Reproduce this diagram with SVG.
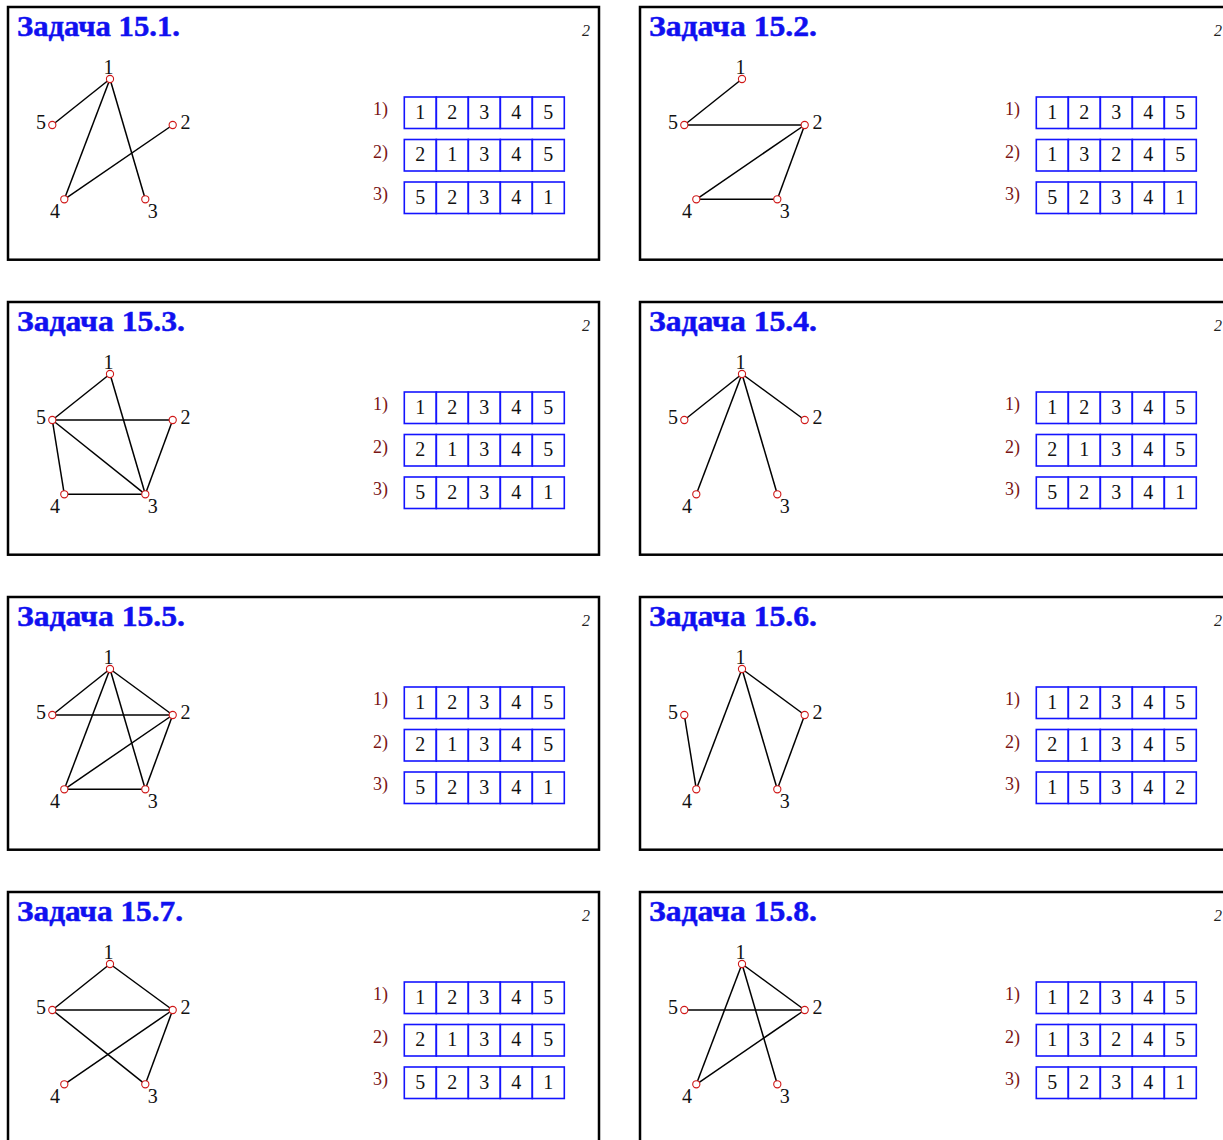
<svg xmlns="http://www.w3.org/2000/svg" width="1223" height="1140" viewBox="0 0 1223 1140">
<style>
.frame{fill:none;stroke:#000;stroke-width:2.5}
.title{font-family:"Liberation Serif",serif;font-weight:bold;font-size:30px;fill:#1010f0;stroke:#1010f0;stroke-width:0.5}
.pg{font-family:"Liberation Serif",serif;font-style:italic;font-size:16px;fill:#222;text-anchor:middle}
.edges line{stroke:#000;stroke-width:1.5}
.v circle{fill:#fff;stroke:#d01818;stroke-width:1.1}
.v text{font-family:"Liberation Serif",serif;font-size:20px;fill:#111;text-anchor:middle}
.rl{font-family:"Liberation Serif",serif;font-size:18px;fill:#7a1515}
.cell{fill:none;stroke:#1414ff;stroke-width:1.6}
.cells text{font-family:"Liberation Serif",serif;font-size:20px;fill:#111;text-anchor:middle}
</style>
<defs>
<g id="frame">
<rect class="frame" x="8" y="7" width="591" height="252.7"/>
<text class="pg" x="586" y="36">2</text>
</g>
<g id="grid">
<rect class="cell" x="404.3" y="0" width="32" height="31.5"/>
<rect class="cell" x="436.3" y="0" width="32" height="31.5"/>
<rect class="cell" x="468.3" y="0" width="32" height="31.5"/>
<rect class="cell" x="500.3" y="0" width="32" height="31.5"/>
<rect class="cell" x="532.3" y="0" width="32" height="31.5"/>
</g>
<g id="labels">
<text class="rl" x="373" y="115">1)</text>
<text class="rl" x="373" y="157.5">2)</text>
<text class="rl" x="373" y="200">3)</text>
</g>
</defs>

<!-- Panel 15.1 -->
<g id="panel-15-1" transform="translate(0,0)">
<use href="#frame"/>
<text class="title" x="17" y="35.7" textLength="163" lengthAdjust="spacingAndGlyphs">Задача 15.1.</text>
<g class="edges" id="edges-15-1">
<line x1="110" y1="79" x2="52.3" y2="125"/>
<line x1="110" y1="79" x2="64.3" y2="199.3"/>
<line x1="110" y1="79" x2="145.3" y2="199.3"/>
<line x1="172.7" y1="125" x2="64.3" y2="199.3"/>
</g>
<g class="v" id="n15-1-1"><circle cx="110" cy="79" r="3.6"/><text x="108.5" y="74">1</text></g>
<g class="v" id="n15-1-2"><circle cx="172.7" cy="125" r="3.6"/><text x="185.5" y="128.7">2</text></g>
<g class="v" id="n15-1-3"><circle cx="145.3" cy="199.3" r="3.6"/><text x="152.7" y="218.3">3</text></g>
<g class="v" id="n15-1-4"><circle cx="64.3" cy="199.3" r="3.6"/><text x="55" y="218.3">4</text></g>
<g class="v" id="n15-1-5"><circle cx="52.3" cy="125" r="3.6"/><text x="41" y="128.7">5</text></g>
<use href="#labels"/>
<g class="cells" id="t15-1">
<g transform="translate(0,97)"><use href="#grid"/><text x="420.3" y="21.5">1</text><text x="452.3" y="21.5">2</text><text x="484.3" y="21.5">3</text><text x="516.3" y="21.5">4</text><text x="548.3" y="21.5">5</text></g>
<g transform="translate(0,139.5)"><use href="#grid"/><text x="420.3" y="21.5">2</text><text x="452.3" y="21.5">1</text><text x="484.3" y="21.5">3</text><text x="516.3" y="21.5">4</text><text x="548.3" y="21.5">5</text></g>
<g transform="translate(0,182)"><use href="#grid"/><text x="420.3" y="21.5">5</text><text x="452.3" y="21.5">2</text><text x="484.3" y="21.5">3</text><text x="516.3" y="21.5">4</text><text x="548.3" y="21.5">1</text></g>
</g>
</g>

<!-- Panel 15.2 -->
<g id="panel-15-2" transform="translate(632,0)">
<use href="#frame"/>
<text class="title" x="17" y="35.7" textLength="168" lengthAdjust="spacingAndGlyphs">Задача 15.2.</text>
<g class="edges" id="edges-15-2">
<line x1="110" y1="79" x2="52.3" y2="125"/>
<line x1="52.3" y1="125" x2="172.7" y2="125"/>
<line x1="172.7" y1="125" x2="64.3" y2="199.3"/>
<line x1="172.7" y1="125" x2="145.3" y2="199.3"/>
<line x1="64.3" y1="199.3" x2="145.3" y2="199.3"/>
</g>
<g class="v" id="n15-2-1"><circle cx="110" cy="79" r="3.6"/><text x="108.5" y="74">1</text></g>
<g class="v" id="n15-2-2"><circle cx="172.7" cy="125" r="3.6"/><text x="185.5" y="128.7">2</text></g>
<g class="v" id="n15-2-3"><circle cx="145.3" cy="199.3" r="3.6"/><text x="152.7" y="218.3">3</text></g>
<g class="v" id="n15-2-4"><circle cx="64.3" cy="199.3" r="3.6"/><text x="55" y="218.3">4</text></g>
<g class="v" id="n15-2-5"><circle cx="52.3" cy="125" r="3.6"/><text x="41" y="128.7">5</text></g>
<use href="#labels"/>
<g class="cells" id="t15-2">
<g transform="translate(0,97)"><use href="#grid"/><text x="420.3" y="21.5">1</text><text x="452.3" y="21.5">2</text><text x="484.3" y="21.5">3</text><text x="516.3" y="21.5">4</text><text x="548.3" y="21.5">5</text></g>
<g transform="translate(0,139.5)"><use href="#grid"/><text x="420.3" y="21.5">1</text><text x="452.3" y="21.5">3</text><text x="484.3" y="21.5">2</text><text x="516.3" y="21.5">4</text><text x="548.3" y="21.5">5</text></g>
<g transform="translate(0,182)"><use href="#grid"/><text x="420.3" y="21.5">5</text><text x="452.3" y="21.5">2</text><text x="484.3" y="21.5">3</text><text x="516.3" y="21.5">4</text><text x="548.3" y="21.5">1</text></g>
</g>
</g>

<!-- Panel 15.3 -->
<g id="panel-15-3" transform="translate(0,295)">
<use href="#frame"/>
<text class="title" x="17" y="35.7" textLength="168" lengthAdjust="spacingAndGlyphs">Задача 15.3.</text>
<g class="edges" id="edges-15-3">
<line x1="110" y1="79" x2="52.3" y2="125"/>
<line x1="110" y1="79" x2="145.3" y2="199.3"/>
<line x1="52.3" y1="125" x2="172.7" y2="125"/>
<line x1="52.3" y1="125" x2="145.3" y2="199.3"/>
<line x1="52.3" y1="125" x2="64.3" y2="199.3"/>
<line x1="172.7" y1="125" x2="145.3" y2="199.3"/>
<line x1="64.3" y1="199.3" x2="145.3" y2="199.3"/>
</g>
<g class="v" id="n15-3-1"><circle cx="110" cy="79" r="3.6"/><text x="108.5" y="74">1</text></g>
<g class="v" id="n15-3-2"><circle cx="172.7" cy="125" r="3.6"/><text x="185.5" y="128.7">2</text></g>
<g class="v" id="n15-3-3"><circle cx="145.3" cy="199.3" r="3.6"/><text x="152.7" y="218.3">3</text></g>
<g class="v" id="n15-3-4"><circle cx="64.3" cy="199.3" r="3.6"/><text x="55" y="218.3">4</text></g>
<g class="v" id="n15-3-5"><circle cx="52.3" cy="125" r="3.6"/><text x="41" y="128.7">5</text></g>
<use href="#labels"/>
<g class="cells" id="t15-3">
<g transform="translate(0,97)"><use href="#grid"/><text x="420.3" y="21.5">1</text><text x="452.3" y="21.5">2</text><text x="484.3" y="21.5">3</text><text x="516.3" y="21.5">4</text><text x="548.3" y="21.5">5</text></g>
<g transform="translate(0,139.5)"><use href="#grid"/><text x="420.3" y="21.5">2</text><text x="452.3" y="21.5">1</text><text x="484.3" y="21.5">3</text><text x="516.3" y="21.5">4</text><text x="548.3" y="21.5">5</text></g>
<g transform="translate(0,182)"><use href="#grid"/><text x="420.3" y="21.5">5</text><text x="452.3" y="21.5">2</text><text x="484.3" y="21.5">3</text><text x="516.3" y="21.5">4</text><text x="548.3" y="21.5">1</text></g>
</g>
</g>

<!-- Panel 15.4 -->
<g id="panel-15-4" transform="translate(632,295)">
<use href="#frame"/>
<text class="title" x="17" y="35.7" textLength="168" lengthAdjust="spacingAndGlyphs">Задача 15.4.</text>
<g class="edges" id="edges-15-4">
<line x1="110" y1="79" x2="52.3" y2="125"/>
<line x1="110" y1="79" x2="172.7" y2="125"/>
<line x1="110" y1="79" x2="64.3" y2="199.3"/>
<line x1="110" y1="79" x2="145.3" y2="199.3"/>
</g>
<g class="v" id="n15-4-1"><circle cx="110" cy="79" r="3.6"/><text x="108.5" y="74">1</text></g>
<g class="v" id="n15-4-2"><circle cx="172.7" cy="125" r="3.6"/><text x="185.5" y="128.7">2</text></g>
<g class="v" id="n15-4-3"><circle cx="145.3" cy="199.3" r="3.6"/><text x="152.7" y="218.3">3</text></g>
<g class="v" id="n15-4-4"><circle cx="64.3" cy="199.3" r="3.6"/><text x="55" y="218.3">4</text></g>
<g class="v" id="n15-4-5"><circle cx="52.3" cy="125" r="3.6"/><text x="41" y="128.7">5</text></g>
<use href="#labels"/>
<g class="cells" id="t15-4">
<g transform="translate(0,97)"><use href="#grid"/><text x="420.3" y="21.5">1</text><text x="452.3" y="21.5">2</text><text x="484.3" y="21.5">3</text><text x="516.3" y="21.5">4</text><text x="548.3" y="21.5">5</text></g>
<g transform="translate(0,139.5)"><use href="#grid"/><text x="420.3" y="21.5">2</text><text x="452.3" y="21.5">1</text><text x="484.3" y="21.5">3</text><text x="516.3" y="21.5">4</text><text x="548.3" y="21.5">5</text></g>
<g transform="translate(0,182)"><use href="#grid"/><text x="420.3" y="21.5">5</text><text x="452.3" y="21.5">2</text><text x="484.3" y="21.5">3</text><text x="516.3" y="21.5">4</text><text x="548.3" y="21.5">1</text></g>
</g>
</g>

<!-- Panel 15.5 -->
<g id="panel-15-5" transform="translate(0,590)">
<use href="#frame"/>
<text class="title" x="17" y="35.7" textLength="168" lengthAdjust="spacingAndGlyphs">Задача 15.5.</text>
<g class="edges" id="edges-15-5">
<line x1="110" y1="79" x2="52.3" y2="125"/>
<line x1="110" y1="79" x2="172.7" y2="125"/>
<line x1="110" y1="79" x2="64.3" y2="199.3"/>
<line x1="110" y1="79" x2="145.3" y2="199.3"/>
<line x1="52.3" y1="125" x2="172.7" y2="125"/>
<line x1="172.7" y1="125" x2="64.3" y2="199.3"/>
<line x1="172.7" y1="125" x2="145.3" y2="199.3"/>
<line x1="64.3" y1="199.3" x2="145.3" y2="199.3"/>
</g>
<g class="v" id="n15-5-1"><circle cx="110" cy="79" r="3.6"/><text x="108.5" y="74">1</text></g>
<g class="v" id="n15-5-2"><circle cx="172.7" cy="125" r="3.6"/><text x="185.5" y="128.7">2</text></g>
<g class="v" id="n15-5-3"><circle cx="145.3" cy="199.3" r="3.6"/><text x="152.7" y="218.3">3</text></g>
<g class="v" id="n15-5-4"><circle cx="64.3" cy="199.3" r="3.6"/><text x="55" y="218.3">4</text></g>
<g class="v" id="n15-5-5"><circle cx="52.3" cy="125" r="3.6"/><text x="41" y="128.7">5</text></g>
<use href="#labels"/>
<g class="cells" id="t15-5">
<g transform="translate(0,97)"><use href="#grid"/><text x="420.3" y="21.5">1</text><text x="452.3" y="21.5">2</text><text x="484.3" y="21.5">3</text><text x="516.3" y="21.5">4</text><text x="548.3" y="21.5">5</text></g>
<g transform="translate(0,139.5)"><use href="#grid"/><text x="420.3" y="21.5">2</text><text x="452.3" y="21.5">1</text><text x="484.3" y="21.5">3</text><text x="516.3" y="21.5">4</text><text x="548.3" y="21.5">5</text></g>
<g transform="translate(0,182)"><use href="#grid"/><text x="420.3" y="21.5">5</text><text x="452.3" y="21.5">2</text><text x="484.3" y="21.5">3</text><text x="516.3" y="21.5">4</text><text x="548.3" y="21.5">1</text></g>
</g>
</g>

<!-- Panel 15.6 -->
<g id="panel-15-6" transform="translate(632,590)">
<use href="#frame"/>
<text class="title" x="17" y="35.7" textLength="168" lengthAdjust="spacingAndGlyphs">Задача 15.6.</text>
<g class="edges" id="edges-15-6">
<line x1="52.3" y1="125" x2="64.3" y2="199.3"/>
<line x1="64.3" y1="199.3" x2="110" y2="79"/>
<line x1="110" y1="79" x2="145.3" y2="199.3"/>
<line x1="110" y1="79" x2="172.7" y2="125"/>
<line x1="172.7" y1="125" x2="145.3" y2="199.3"/>
</g>
<g class="v" id="n15-6-1"><circle cx="110" cy="79" r="3.6"/><text x="108.5" y="74">1</text></g>
<g class="v" id="n15-6-2"><circle cx="172.7" cy="125" r="3.6"/><text x="185.5" y="128.7">2</text></g>
<g class="v" id="n15-6-3"><circle cx="145.3" cy="199.3" r="3.6"/><text x="152.7" y="218.3">3</text></g>
<g class="v" id="n15-6-4"><circle cx="64.3" cy="199.3" r="3.6"/><text x="55" y="218.3">4</text></g>
<g class="v" id="n15-6-5"><circle cx="52.3" cy="125" r="3.6"/><text x="41" y="128.7">5</text></g>
<use href="#labels"/>
<g class="cells" id="t15-6">
<g transform="translate(0,97)"><use href="#grid"/><text x="420.3" y="21.5">1</text><text x="452.3" y="21.5">2</text><text x="484.3" y="21.5">3</text><text x="516.3" y="21.5">4</text><text x="548.3" y="21.5">5</text></g>
<g transform="translate(0,139.5)"><use href="#grid"/><text x="420.3" y="21.5">2</text><text x="452.3" y="21.5">1</text><text x="484.3" y="21.5">3</text><text x="516.3" y="21.5">4</text><text x="548.3" y="21.5">5</text></g>
<g transform="translate(0,182)"><use href="#grid"/><text x="420.3" y="21.5">1</text><text x="452.3" y="21.5">5</text><text x="484.3" y="21.5">3</text><text x="516.3" y="21.5">4</text><text x="548.3" y="21.5">2</text></g>
</g>
</g>

<!-- Panel 15.7 -->
<g id="panel-15-7" transform="translate(0,885)">
<use href="#frame"/>
<text class="title" x="17" y="35.7" textLength="166" lengthAdjust="spacingAndGlyphs">Задача 15.7.</text>
<g class="edges" id="edges-15-7">
<line x1="110" y1="79" x2="52.3" y2="125"/>
<line x1="110" y1="79" x2="172.7" y2="125"/>
<line x1="52.3" y1="125" x2="172.7" y2="125"/>
<line x1="52.3" y1="125" x2="145.3" y2="199.3"/>
<line x1="172.7" y1="125" x2="64.3" y2="199.3"/>
<line x1="172.7" y1="125" x2="145.3" y2="199.3"/>
</g>
<g class="v" id="n15-7-1"><circle cx="110" cy="79" r="3.6"/><text x="108.5" y="74">1</text></g>
<g class="v" id="n15-7-2"><circle cx="172.7" cy="125" r="3.6"/><text x="185.5" y="128.7">2</text></g>
<g class="v" id="n15-7-3"><circle cx="145.3" cy="199.3" r="3.6"/><text x="152.7" y="218.3">3</text></g>
<g class="v" id="n15-7-4"><circle cx="64.3" cy="199.3" r="3.6"/><text x="55" y="218.3">4</text></g>
<g class="v" id="n15-7-5"><circle cx="52.3" cy="125" r="3.6"/><text x="41" y="128.7">5</text></g>
<use href="#labels"/>
<g class="cells" id="t15-7">
<g transform="translate(0,97)"><use href="#grid"/><text x="420.3" y="21.5">1</text><text x="452.3" y="21.5">2</text><text x="484.3" y="21.5">3</text><text x="516.3" y="21.5">4</text><text x="548.3" y="21.5">5</text></g>
<g transform="translate(0,139.5)"><use href="#grid"/><text x="420.3" y="21.5">2</text><text x="452.3" y="21.5">1</text><text x="484.3" y="21.5">3</text><text x="516.3" y="21.5">4</text><text x="548.3" y="21.5">5</text></g>
<g transform="translate(0,182)"><use href="#grid"/><text x="420.3" y="21.5">5</text><text x="452.3" y="21.5">2</text><text x="484.3" y="21.5">3</text><text x="516.3" y="21.5">4</text><text x="548.3" y="21.5">1</text></g>
</g>
</g>

<!-- Panel 15.8 -->
<g id="panel-15-8" transform="translate(632,885)">
<use href="#frame"/>
<text class="title" x="17" y="35.7" textLength="168" lengthAdjust="spacingAndGlyphs">Задача 15.8.</text>
<g class="edges" id="edges-15-8">
<line x1="110" y1="79" x2="64.3" y2="199.3"/>
<line x1="110" y1="79" x2="145.3" y2="199.3"/>
<line x1="110" y1="79" x2="172.7" y2="125"/>
<line x1="52.3" y1="125" x2="172.7" y2="125"/>
<line x1="172.7" y1="125" x2="64.3" y2="199.3"/>
</g>
<g class="v" id="n15-8-1"><circle cx="110" cy="79" r="3.6"/><text x="108.5" y="74">1</text></g>
<g class="v" id="n15-8-2"><circle cx="172.7" cy="125" r="3.6"/><text x="185.5" y="128.7">2</text></g>
<g class="v" id="n15-8-3"><circle cx="145.3" cy="199.3" r="3.6"/><text x="152.7" y="218.3">3</text></g>
<g class="v" id="n15-8-4"><circle cx="64.3" cy="199.3" r="3.6"/><text x="55" y="218.3">4</text></g>
<g class="v" id="n15-8-5"><circle cx="52.3" cy="125" r="3.6"/><text x="41" y="128.7">5</text></g>
<use href="#labels"/>
<g class="cells" id="t15-8">
<g transform="translate(0,97)"><use href="#grid"/><text x="420.3" y="21.5">1</text><text x="452.3" y="21.5">2</text><text x="484.3" y="21.5">3</text><text x="516.3" y="21.5">4</text><text x="548.3" y="21.5">5</text></g>
<g transform="translate(0,139.5)"><use href="#grid"/><text x="420.3" y="21.5">1</text><text x="452.3" y="21.5">3</text><text x="484.3" y="21.5">2</text><text x="516.3" y="21.5">4</text><text x="548.3" y="21.5">5</text></g>
<g transform="translate(0,182)"><use href="#grid"/><text x="420.3" y="21.5">5</text><text x="452.3" y="21.5">2</text><text x="484.3" y="21.5">3</text><text x="516.3" y="21.5">4</text><text x="548.3" y="21.5">1</text></g>
</g>
</g>
</svg>
